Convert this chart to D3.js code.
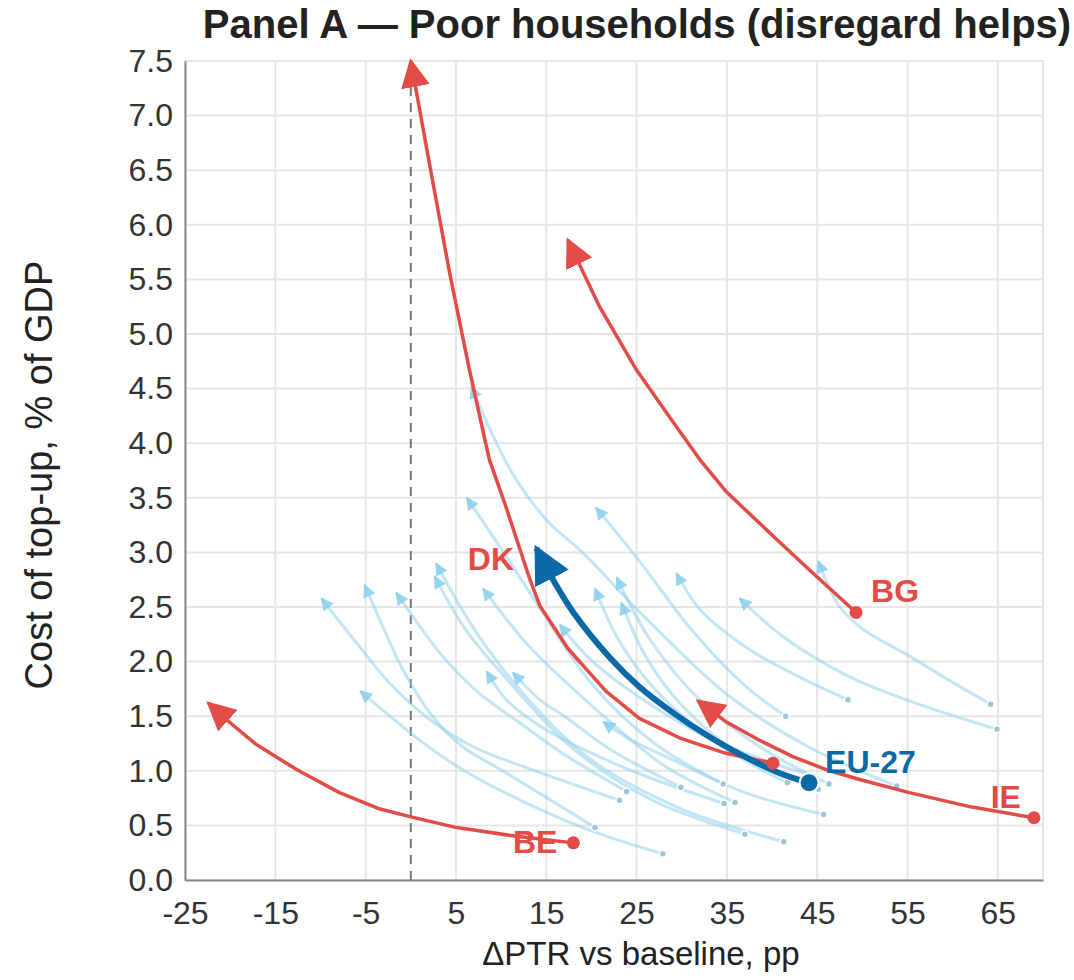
<!DOCTYPE html>
<html lang="en">
<head>
<meta charset="utf-8">
<title>Panel A — Poor households (disregard helps)</title>
<script src="https://d3js.org/d3.v7.min.js"></script>
<style>
    body{
        margin: 0;
        background: #fff;
    }
    text{
        font-family: "Liberation Sans", Arial, Helvetica, sans-serif;
    }
    .tick text{
        font-size: 32px;
        fill: #333;
    }
    .title{
        font-size: 40px;
        font-weight: bold;
        fill: #222;
    }
    .axisTitle{
        fill: #222;
    }
    .hiLabel{
        font-size: 32px;
        font-weight: bold;
    }
</style>
</head>
<body>
<div id="chart"></div>
<script>

// tick values
var xTicks = [-25, -15, -5, 5, 15, 25, 35, 45, 55, 65]
var yTicks = [0, 0.5, 1, 1.5, 2, 2.5, 3, 3.5, 4, 4.5, 5, 5.5, 6, 6.5, 7, 7.5]

// highlighted trajectories [ΔPTR pp, cost % GDP], start point first, arrow tip last
var BE = [[18.0,0.34],[11.7,0.40],[5.1,0.48],[-0.1,0.58],[-3.4,0.65],[-7.9,0.80],[-12.6,1.01],[-17.1,1.24],[-20.0,1.44],[-22.4,1.62]]
var BG = [[49.3,2.45],[44,2.85],[40.5,3.12],[35,3.55],[32,3.85],[28.65,4.24],[25,4.67],[20.9,5.25],[17.4,5.86]]
var DK = [[40.1,1.07],[34.9,1.16],[29.8,1.30],[25.3,1.48],[21.6,1.73],[17.4,2.12],[14.3,2.51],[13.2,2.75],[10.4,3.45],[8.7,3.85],[6.5,4.67],[4.3,5.56],[2.2,6.5],[0,7.5]]
var IE = [[69.0,0.57],[62,0.67],[55.2,0.80],[49.7,0.92],[46,1.01],[42.3,1.13],[38.6,1.28],[34.9,1.45],[31.8,1.64]]
var EU27 = [[44.1,0.89],[40.8,0.98],[36.5,1.15],[32.7,1.33],[29.4,1.51],[25.3,1.77],[22,2.04],[18,2.45],[16.1,2.70],[13.9,3.04]]

// the other member states (faint), start point first, arrow tip last
var otherTrails = [
    [[64.2,1.61],[60,1.81],[55.2,2.05],[50,2.3],[47.5,2.5],[45.1,2.92]],
    [[64.9,1.38],[55.9,1.62],[48.6,1.86],[41.2,2.23],[36.4,2.58]],
    [[48.4,1.65],[43,1.86],[37.5,2.11],[32,2.48],[29.4,2.81]],
    [[41.5,1.5],[37,1.78],[31,2.3],[25.5,2.9],[20.5,3.41]],
    [[53.8,0.86],[44,1.22],[35,1.7],[26,2.4],[19,3.0],[15,3.3],[11,3.76],[6.7,4.52]],
    [[46.3,0.88],[39,1.2],[32,1.65],[26.5,2.2],[22.8,2.77]],
    [[41.7,0.89],[34,1.25],[27,1.75],[23,2.2],[20.4,2.67]],
    [[45.1,0.83],[37,1.12],[30,1.6],[26,2.05],[23.3,2.54]],
    [[44.5,0.95],[33,1.3],[24,1.75],[19.5,2.05],[16.5,2.34]],
    [[34.6,0.88],[27,1.25],[20,1.8],[13.9,2.54],[10.6,2.96],[6.2,3.5]],
    [[41.3,0.35],[30,0.65],[20,1.1],[12,1.75],[7,2.3],[2.8,2.9]],
    [[37.0,0.42],[27,0.72],[18,1.2],[10,1.9],[6,2.3],[2.65,2.78]],
    [[35.9,0.71],[28,1.05],[20,1.6],[13,2.15],[8.0,2.67]],
    [[34.7,0.70],[26,0.95],[19,1.2],[14.3,1.41],[10.6,1.65],[8.4,1.91]],
    [[29.9,0.85],[22,1.2],[17,1.5],[14.3,1.65],[11.3,1.90]],
    [[45.7,0.60],[37,0.8],[29,1.1],[24,1.3],[21.3,1.45]],
    [[23.1,0.73],[12.4,1.04],[6.9,1.22],[2.1,1.47],[-2.3,1.80],[-6.0,2.17],[-9.9,2.58]],
    [[20.4,0.48],[10.6,0.98],[5.75,1.22],[2.4,1.50],[-0.9,1.93],[-3.1,2.32],[-5.1,2.70]],
    [[23.9,0.81],[17,1.15],[12.4,1.42],[7.3,1.73],[3.2,2.08],[0.25,2.41],[-1.6,2.63]],
    [[27.9,0.24],[20,0.45],[12.4,0.72],[5.75,1.01],[1.3,1.26],[-2.3,1.5],[-5.6,1.73]]
]

var red = "#e34b46"
var blue = "#0a69a6"
var faint = "#87ceeb"

var width = 1074
var height = 980
var plot = {left: 185, right: 1043, top: 61, bottom: 880}

var svg = d3.select("#chart")
  .append("svg")
    .attr("width", width)
    .attr("height", height)

var x = d3.scaleLinear().domain([-25, 70]).range([plot.left, plot.right])
var y = d3.scaleLinear().domain([0, 7.5]).range([plot.bottom, plot.top])

// arrow heads
var defs = svg.append("defs")
function addMarker(id, color, len, wid, opacity){
    defs.append("marker")
        .attr("id", id)
        .attr("viewBox", "0 0 10 10")
        .attr("refX", 9)
        .attr("refY", 5)
        .attr("markerUnits", "userSpaceOnUse")
        .attr("markerWidth", len)
        .attr("markerHeight", wid)
        .attr("orient", "auto")
      .append("path")
        .attr("d", "M0,0 L10,5 L0,10 z")
        .attr("fill", color)
        .attr("fill-opacity", opacity)
}
addMarker("headRed", red, 29, 29, 1)
addMarker("headBlue", blue, 38, 38, 1)
addMarker("headFaint", faint, 14, 13, 0.85)

// plot frame + grid
svg.append("rect")
    .attr("x", plot.left)
    .attr("y", plot.top)
    .attr("width", plot.right - plot.left)
    .attr("height", plot.bottom - plot.top)
    .attr("fill", "none")
    .attr("stroke", "#e6e6e6")
    .attr("stroke-width", 2)

svg.append("g")
    .selectAll("line")
    .data(xTicks.slice(1))
    .enter().append("line")
    .attr("x1", d => x(d)).attr("x2", d => x(d))
    .attr("y1", plot.top).attr("y2", plot.bottom)
    .attr("stroke", "#e6e6e6")
    .attr("stroke-width", 2)

svg.append("g")
    .selectAll("line")
    .data(yTicks.slice(1))
    .enter().append("line")
    .attr("y1", d => y(d)).attr("y2", d => y(d))
    .attr("x1", plot.left).attr("x2", plot.right)
    .attr("stroke", "#e6e6e6")
    .attr("stroke-width", 2)

// axes (plain hyphen for negatives, like the original)
var xAxis = svg.append("g")
    .attr("transform", "translate(0," + plot.bottom + ")")
    .call(d3.axisBottom(x).tickValues(xTicks).tickSize(0).tickPadding(21).tickFormat(d => String(d)))
xAxis.select(".domain").attr("stroke", "#888").attr("stroke-width", 2)

var yAxis = svg.append("g")
    .attr("transform", "translate(" + plot.left + ",0)")
    .call(d3.axisLeft(y).tickValues(yTicks).tickSize(0).tickPadding(12).tickFormat(d => d.toFixed(1)))
yAxis.select(".domain").attr("stroke", "#888").attr("stroke-width", 2)

svg.selectAll(".tick text").attr("font-family", null).attr("font-size", null)

// zero reference
svg.append("line")
    .attr("x1", x(0)).attr("x2", x(0))
    .attr("y1", y(0)).attr("y2", y(7.5))
    .attr("stroke", "#777")
    .attr("stroke-width", 2)
    .attr("stroke-dasharray", "9,7")

// faint trails
var faintLine = d3.line()
    .x(d => x(d[0]))
    .y(d => y(d[1]))
    .curve(d3.curveCatmullRom.alpha(0.5))

svg.append("g")
    .selectAll("path")
    .data(otherTrails)
    .enter().append("path")
    .attr("d", faintLine)
    .attr("fill", "none")
    .attr("stroke", faint)
    .attr("stroke-opacity", 0.5)
    .attr("stroke-width", 3)
    .attr("marker-end", "url(#headFaint)")

svg.append("g")
    .selectAll("circle")
    .data(otherTrails)
    .enter().append("circle")
    .attr("cx", d => x(d[0][0]))
    .attr("cy", d => y(d[0][1]))
    .attr("r", 3.5)
    .attr("fill", "#9cc5d8")
    .attr("stroke", "#fff")
    .attr("stroke-width", 1.5)

// highlighted countries
var hiLine = d3.line()
    .x(d => x(d[0]))
    .y(d => y(d[1]))

var reds = [BE, BG, DK, IE]
svg.append("g")
    .selectAll("path")
    .data(reds)
    .enter().append("path")
    .attr("d", hiLine)
    .attr("fill", "none")
    .attr("stroke", red)
    .attr("stroke-width", 3.5)
    .attr("stroke-linejoin", "round")
    .attr("marker-end", "url(#headRed)")

svg.append("path")
    .datum(EU27)
    .attr("d", hiLine.curve(d3.curveCatmullRom.alpha(0.5)))
    .attr("fill", "none")
    .attr("stroke", blue)
    .attr("stroke-width", 6)
    .attr("stroke-linejoin", "round")
    .attr("marker-end", "url(#headBlue)")

svg.append("g")
    .selectAll("circle")
    .data(reds)
    .enter().append("circle")
    .attr("cx", d => x(d[0][0]))
    .attr("cy", d => y(d[0][1]))
    .attr("r", 6.5)
    .attr("fill", red)

svg.append("circle")
    .attr("cx", x(EU27[0][0]))
    .attr("cy", y(EU27[0][1]))
    .attr("r", 9.5)
    .attr("fill", blue)
    .attr("stroke", "#fff")
    .attr("stroke-width", 2)

// labels, placed relative to each trajectory
function label(txt, pt, dx, dy, anchor, color){
    svg.append("text")
        .attr("class", "hiLabel")
        .attr("x", x(pt[0]) + dx)
        .attr("y", y(pt[1]) + dy)
        .attr("text-anchor", anchor)
        .attr("fill", color)
        .text(txt)
}
label("BE", BE[0], -16, 10, "end", red)
label("BG", BG[0], 15, -10, "start", red)
label("IE", IE[0], -13, -10, "end", red)
label("DK", DK[6], -49, -36, "middle", red)
label("EU-27", EU27[0], 16, -10, "start", blue)

// titles
svg.append("text")
    .attr("class", "title")
    .attr("x", 637)
    .attr("y", 38)
    .attr("text-anchor", "middle")
    .text("Panel A — Poor households (disregard helps)")

svg.append("text")
    .attr("class", "axisTitle")
    .attr("x", 641)
    .attr("y", 965)
    .attr("text-anchor", "middle")
    .style("font-size", "33px")
    .text("ΔPTR vs baseline, pp")

svg.append("text")
    .attr("class", "axisTitle")
    .attr("transform", "translate(52,475) rotate(-90)")
    .attr("text-anchor", "middle")
    .style("font-size", "38px")
    .text("Cost of top-up, % of GDP")

</script>
</body>
</html>
